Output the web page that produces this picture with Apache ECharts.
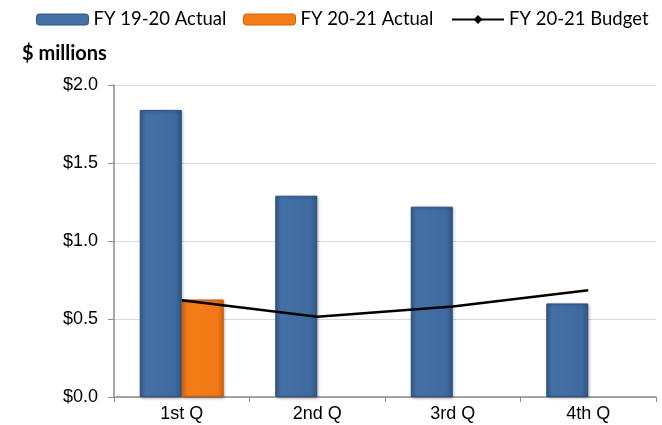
<!DOCTYPE html>
<html>
<head>
<meta charset="utf-8">
<script src="https://cdn.jsdelivr.net/npm/echarts@6/dist/echarts.min.js"></script>
<style>
  html, body { margin: 0; padding: 0; background: #fff; }
  #main { width: 662px; height: 425px; }
</style>
</head>
<body>
<div id="main"></div>
<script>
  const quarters = ['1st Q', '2nd Q', '3rd Q', '4th Q']
  const actual1920 = [1.84, 1.29, 1.22, 0.6]
  const actual2021 = [0.625, null, null, null]
  const budget2021 = [0.62, 0.515, 0.58, 0.685]

  const blue = new echarts.graphic.LinearGradient(0, 0, 1, 0, [
    { offset: 0, color: '#37608f' },
    { offset: 0.15, color: '#4470a6' },
    { offset: 0.85, color: '#3e6a9f' },
    { offset: 1, color: '#2f5582' },
  ])
  const orange = new echarts.graphic.LinearGradient(0, 0, 1, 0, [
    { offset: 0, color: '#e06a0c' },
    { offset: 0.15, color: '#f47d17' },
    { offset: 0.85, color: '#f07816' },
    { offset: 1, color: '#d4620a' },
  ])

  // one legend per item so each sits where the reference puts it
  const legendBase = {
    top: 10,
    padding: 0,
    itemWidth: 52,
    itemHeight: 11,
    textStyle: { fontFamily: 'Lato', fontSize: 18.5, color: '#000' },
  }

  const chart = echarts.init(document.getElementById('main'))
  const option = {
    animation: false,
    legend: [
      {
        ...legendBase,
        left: 36,
        data: [{ name: 'FY 19-20 Actual', itemStyle: { color: '#4470a6', borderColor: '#2f5582', borderWidth: 1 } }],
      },
      {
        ...legendBase,
        left: 243,
        data: [{ name: 'FY 20-21 Actual', itemStyle: { color: '#f47d17', borderColor: '#d4620a', borderWidth: 1 } }],
      },
      {
        ...legendBase,
        left: 451,
        data: [{ name: 'FY 20-21 Budget' }],
      },
    ],
    graphic: [
      {
        type: 'text',
        left: 22,
        top: 44,
        style: { text: '$ millions', font: 'bold 20px Lato', fill: '#000' },
      },
    ],
    grid: { left: 114, right: 6, top: 85, bottom: 28 },
    xAxis: {
      type: 'category',
      data: quarters,
      axisLine: { lineStyle: { color: '#8c8c8c', width: 1.5 } },
      axisTick: { show: true, length: 5, lineStyle: { color: '#8c8c8c' } },
      axisLabel: { fontFamily: 'Liberation Sans', fontSize: 18, color: '#000', margin: 8 },
    },
    yAxis: {
      type: 'value',
      min: 0,
      max: 2,
      interval: 0.5,
      axisLine: { show: true, lineStyle: { color: '#8c8c8c', width: 1.5 } },
      axisTick: { show: true, length: 6, lineStyle: { color: '#8c8c8c' } },
      splitLine: { lineStyle: { color: '#d9d9d9', width: 1.2 } },
      axisLabel: {
        fontFamily: 'Liberation Sans',
        fontSize: 18,
        color: '#000',
        margin: 16,
        formatter: (v) => '$' + v.toFixed(1),
      },
    },
    series: [
      {
        name: 'FY 19-20 Actual',
        type: 'bar',
        barWidth: 42,
        barGap: '0%',
        itemStyle: {
          color: blue,
          borderColor: '#2c5080',
          borderWidth: 1,
          shadowColor: 'rgba(0,0,0,0.3)',
          shadowBlur: 3,
          shadowOffsetX: 1,
          shadowOffsetY: 1,
        },
        data: actual1920,
      },
      {
        name: 'FY 20-21 Actual',
        type: 'bar',
        barWidth: 42,
        itemStyle: {
          color: orange,
          borderColor: '#c85d0a',
          borderWidth: 1,
          shadowColor: 'rgba(0,0,0,0.3)',
          shadowBlur: 3,
          shadowOffsetX: 1,
          shadowOffsetY: 1,
        },
        data: actual2021,
      },
      {
        name: 'FY 20-21 Budget',
        type: 'line',
        symbol: 'diamond',
        symbolSize: 6,
        showSymbol: false,
        itemStyle: { color: '#000' },
        lineStyle: { color: '#000', width: 2.5 },
        z: 5,
        data: budget2021,
      },
    ],
  }
  chart.setOption(option)
</script>
</body>
</html>
